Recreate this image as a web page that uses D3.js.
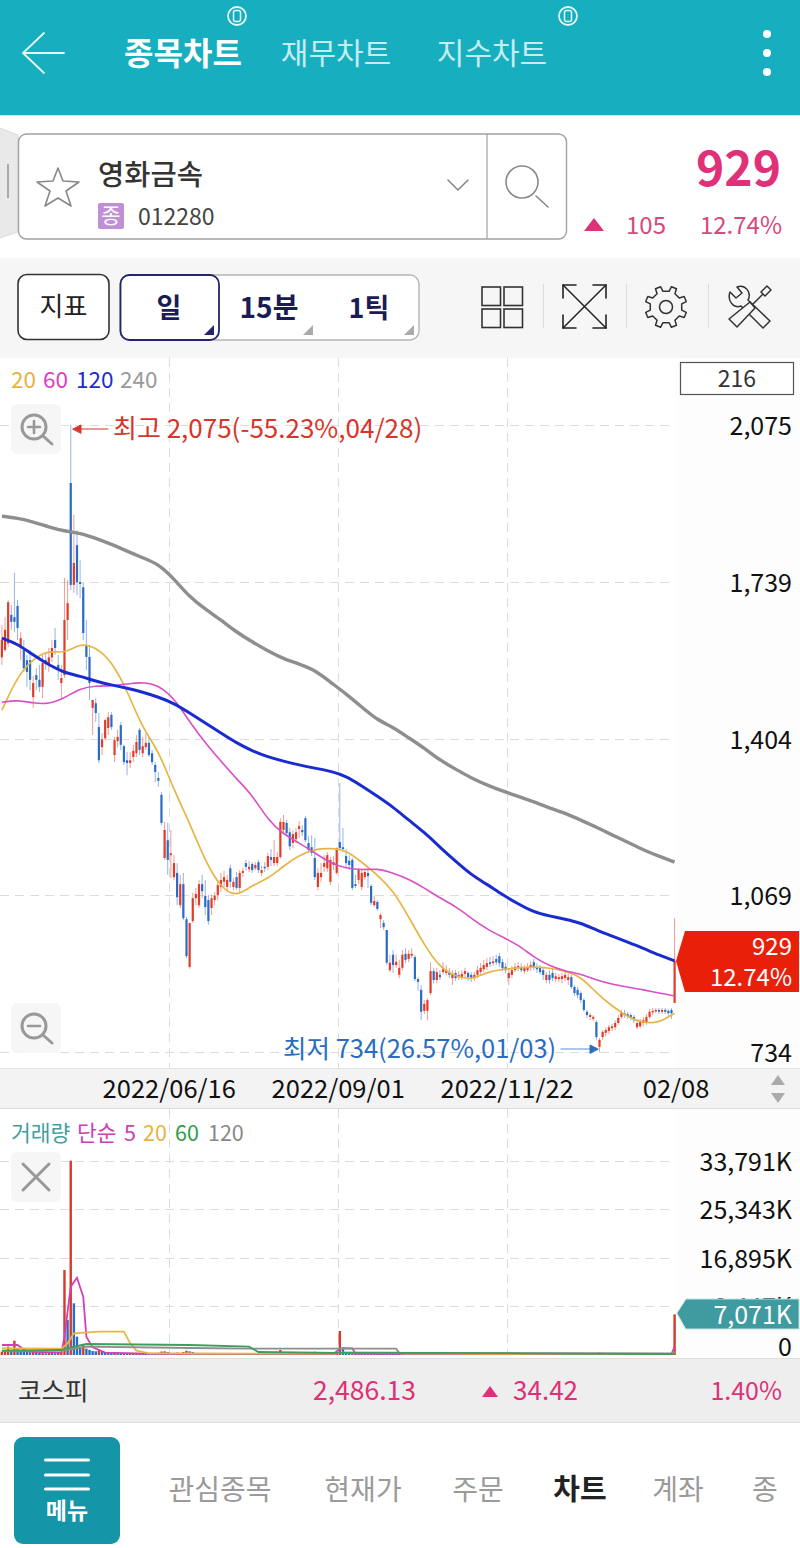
<!DOCTYPE html>
<html>
<head>
<meta charset="utf-8">
<style>
    html, body { margin: 0; padding: 0; background: #fff; }
    svg { display: block; }
    text { font-family: "Noto Sans CJK KR", "Noto Sans", sans-serif; }
    .tick line { shape-rendering: crispEdges; }
</style>
<script src="https://d3js.org/d3.v7.min.js"></script>
</head>
<body>
<svg id="chart" width="800" height="1548"></svg>

<script>
    // candles (won)
    var opens = [
        1578,1594,1608,1669,1664,1688,1598,1594,1572,1572,
        1493,1540,1530,1515,1572,1562,1578,1615,1562,1523,
        1540,1658,1951,1733,1818,1739,1728,1604,1579,1470,
        1480,1429,1386,1405,1427,1455,1369,1399,1433,1388,
        1358,1352,1365,1373,1423,1373,1386,1395,1373,1348,
        1320,1284,1149,1187,1155,1108,1117,1048,1093,1018,
        916,1014,1063,1048,1093,1068,1059,1042,1059,1070,
        1087,1098,1087,1127,1087,1108,1085,1117,1138,1125,
        1136,1127,1140,1117,1130,1130,1151,1138,1138,1151,
        1209,1224,1204,1181,1189,1211,1209,1234,1181,1172,
        1149,1087,1108,1130,1127,1098,1134,1117,1183,1172,
        1153,1143,1145,1093,1102,1087,1108,1117,1089,1048,
        1055,1018,1010,995,909,942,920,899,914,944,
        933,940,937,890,867,822,822,860,907,888,
        899,905,903,903,892,903,894,894,901,903,
        899,892,899,905,911,916,926,924,933,939,
        926,916,892,899,909,914,916,907,909,914,
        926,916,914,909,888,899,903,890,890,890,
        892,888,894,873,867,860,845,820,809,805,
        798,745,766,775,779,785,787,796,809,817,
        815,813,809,787,789,796,798,809,820,822,
        824,820,824,822,824,839];
    var highs = [
        1647,1664,1701,1690,1759,1701,1632,1615,1583,1594,
        1538,1555,1562,1583,1589,1598,1615,1641,1583,1562,
        1748,1743,2075,1883,1850,1786,1737,1658,1604,1487,
        1491,1459,1416,1448,1461,1461,1408,1423,1440,1391,
        1376,1376,1391,1412,1427,1408,1416,1408,1380,1354,
        1333,1290,1226,1224,1209,1155,1138,1113,1117,1023,
        1010,1074,1085,1102,1113,1102,1070,1070,1076,1102,
        1117,1121,1113,1134,1106,1119,1123,1128,1145,1143,
        1140,1140,1145,1132,1140,1160,1168,1187,1162,1234,
        1241,1230,1213,1209,1213,1228,1219,1239,1196,1198,
        1192,1128,1138,1155,1162,1151,1153,1172,1309,1213,
        1168,1155,1149,1113,1128,1123,1123,1123,1093,1068,
        1059,1031,1016,995,942,952,942,931,952,956,
        952,956,942,894,877,845,849,926,914,914,
        909,926,920,914,909,909,907,909,914,907,
        905,905,918,924,931,935,937,939,942,946,
        933,924,914,918,924,926,924,920,924,928,
        933,924,920,916,905,909,914,903,901,903,
        905,901,899,877,873,864,849,824,817,813,
        802,764,781,787,792,794,802,813,824,824,
        820,817,813,802,805,809,815,826,828,828,
        828,828,828,826,828,1020];
    var lows = [
        1562,1590,1600,1637,1632,1615,1572,1547,1515,1508,
        1470,1508,1504,1491,1551,1547,1568,1583,1530,1491,
        1534,1615,1722,1716,1711,1705,1615,1551,1487,1412,
        1440,1352,1369,1401,1412,1423,1354,1386,1380,1348,
        1326,1341,1354,1365,1369,1365,1380,1365,1348,1311,
        1301,1219,1145,1113,1106,1102,1048,1042,1016,935,
        912,1010,1048,1042,1063,1027,1006,1027,1048,1059,
        1076,1087,1076,1085,1080,1080,1076,1108,1123,1119,
        1117,1123,1117,1110,1119,1123,1132,1132,1132,1147,
        1202,1196,1166,1170,1181,1192,1196,1183,1160,1153,
        1102,1080,1098,1119,1119,1091,1123,1113,1166,1162,
        1130,1123,1080,1085,1093,1080,1102,1085,1048,1044,
        1036,999,995,920,905,903,914,892,909,924,
        926,935,886,865,802,815,802,856,881,881,
        888,899,897,892,877,886,888,888,894,886,
        884,886,892,899,905,909,916,918,920,916,
        907,903,877,892,905,907,905,901,905,907,
        909,903,899,888,881,879,886,884,884,881,
        886,877,869,854,849,839,820,807,802,800,
        760,734,760,768,772,779,781,792,805,807,
        805,802,796,783,785,789,792,805,813,817,
        815,815,815,811,805,839];
    var closes = [
        1615,1637,1696,1654,1654,1641,1619,1555,1547,1530,
        1523,1530,1515,1566,1564,1578,1598,1598,1551,1534,
        1658,1694,1733,1780,1739,1735,1630,1579,1523,1487,
        1459,1358,1403,1444,1450,1429,1401,1408,1391,1354,
        1352,1358,1378,1397,1380,1388,1395,1369,1354,1333,
        1314,1224,1209,1145,1159,1138,1065,1093,1020,939,
        1010,1063,1072,1093,1078,1044,1014,1063,1068,1091,
        1102,1108,1102,1098,1098,1085,1117,1121,1130,1130,
        1123,1134,1123,1123,1128,1153,1145,1151,1151,1226,
        1226,1202,1174,1200,1204,1217,1204,1187,1166,1160,
        1108,1117,1117,1138,1155,1145,1140,1170,1170,1168,
        1138,1134,1085,1089,1123,1117,1119,1110,1053,1057,
        1040,1027,1001,925,925,920,927,914,942,931,
        944,944,890,884,820,837,845,907,888,905,
        894,911,909,899,901,892,899,901,907,894,
        892,899,909,914,920,924,922,928,926,924,
        913,909,903,909,916,918,909,914,916,920,
        914,911,905,899,899,888,892,896,894,896,
        899,894,873,860,856,845,824,813,813,809,
        766,760,777,781,787,789,796,807,817,813,
        811,809,802,796,798,802,809,820,822,824,
        820,824,820,817,817,929];

    // moving averages, read every 5th bar
    var maIdx = [0,5,10,15,20,25,30,35,40,45,50,55,60,65,70,75,80,85,90,95,100,105,110,115,120,125,130,135,140,145,150,155,160,165,170,175,180,185,190,195,200,205,210,215];
    var ma240 = [1880,1876,1868,1857,1848,1844,1833,1820,1805,1791,1778,1746,1707,1681,1658,1632,1611,1592,1575,1564,1551,1525,1500,1472,1444,1429,1406,1384,1358,1339,1320,1305,1292,1281,1269,1256,1245,1230,1215,1198,1183,1166,1153,1140];
    var ma120 = [1619,1607,1583,1562,1545,1538,1527,1519,1512,1504,1493,1480,1459,1438,1416,1395,1378,1365,1356,1348,1341,1335,1324,1303,1281,1258,1230,1204,1172,1142,1113,1093,1070,1051,1033,1025,1018,1010,995,982,969,956,941,929];
    var ma60 = [1482,1487,1480,1478,1491,1512,1517,1517,1521,1525,1519,1491,1440,1395,1356,1318,1284,1230,1200,1181,1160,1138,1127,1123,1127,1117,1104,1085,1063,1046,1020,997,980,963,937,918,907,901,888,879,873,867,860,854];
    var ma20 = [1465,1538,1575,1594,1585,1609,1600,1570,1508,1425,1380,1294,1224,1142,1085,1065,1091,1104,1132,1155,1168,1170,1166,1140,1113,1080,1023,963,914,896,888,905,911,914,916,914,907,896,860,832,809,796,796,817];

    // volume, in K
    var volumes = [
        580,700,1450,870,2490,1160,870,750,580,460,
        640,520,350,460,300,400,350,300,400,520,
        14790,6090,33791,8990,3190,1450,1800,1100,900,700,
        650,800,560,500,430,350,400,320,270,300,
        260,300,250,320,350,280,260,220,300,260,
        420,600,640,520,360,300,420,340,520,750,
        640,520,360,300,340,280,300,260,230,270,
        300,250,240,260,230,250,280,220,210,200,
        230,210,200,190,220,260,240,300,280,870,
        420,300,320,260,240,220,230,340,280,240,
        570,380,280,260,300,330,240,420,4170,1100,
        480,360,420,280,240,300,220,210,340,230,
        260,300,210,420,360,320,240,280,300,220,
        200,190,320,280,460,340,380,520,320,240,
        200,210,190,180,210,190,170,180,190,170,
        160,170,180,210,230,220,190,180,200,220,
        240,210,260,220,190,180,170,180,190,170,
        210,190,180,200,170,160,180,170,160,170,
        180,170,260,240,220,260,300,220,180,170,
        360,420,300,240,220,200,230,260,240,190,
        170,180,190,220,200,190,210,230,190,170,
        160,170,150,160,170,7071];

    var vol5Idx = [0,5,8,15,19,20,22,24,26,27,29,33,50,106,108,109,112,113,150,214,215];
    var vol5 = [1740,1740,580,460,400,3190,11890,13456,10150,3190,1330,400,200,200,1100,1200,1150,260,150,170,1470];
    var vol20Idx = [0,19,21,23,31,39,41,43,47,62,107,108,127,128,214,215];
    var vol20 = [1160,1100,2030,3770,4060,4060,2030,750,290,260,230,430,430,230,180,530];
    var vol60Idx = [0,19,22,27,60,79,82,107,108,168,214,215];
    var vol60 = [750,870,1330,1910,1740,1440,520,350,420,300,170,290];
    var vol120Idx = [0,19,22,27,60,79,126,127,214,215];
    var vol120 = [700,760,1000,1440,1220,1100,1100,350,260,320];

    var priceTicks = [2075,1739,1404,1069,734];
    var volumeTicks = [33791,25343,16895,8447,0];
    var gridIdx = [53,107,161];
    var dateIdx = [53,107,161,215];
    var dateLabels = ["2022/06/16","2022/09/01","2022/11/22","02/08"];
    var maLegend = ["20","60","120","240"];
    var volLegend = ["거래량","단순","5","20","60","120"];
    var lastPrice = 929, lastPct = "12.74%", lastChange = "105";

    var teal = "#17afbf", pink = "#df3078", red = "#e23b28", blue = "#2a6bc6";
    var fontStack = '"Noto Sans CJK KR", "Noto Sans", sans-serif';

    var svg = d3.select("#chart");

    function rect(x, y, w, h, fill, stroke, rx, sw) {
        return svg.append("rect").attr("x", x).attr("y", y).attr("width", w).attr("height", h)
            .attr("fill", fill || "none").attr("stroke", stroke || "none")
            .attr("rx", rx || 0).attr("stroke-width", sw || 1.2);
    }
    function label(x, y, str, size, color, anchor, weight) {
        return svg.append("text").attr("x", x).attr("y", y).text(str)
            .attr("font-size", size).attr("fill", color)
            .attr("text-anchor", anchor || "start")
            .attr("font-weight", weight || 400);
    }
    function path(d, stroke, sw, fill) {
        return svg.append("path").attr("d", d).attr("stroke", stroke || "none")
            .attr("stroke-width", sw || 1.5).attr("fill", fill || "none")
            .attr("stroke-linecap", "round").attr("stroke-linejoin", "round");
    }

    // header
    rect(0, 0, 800, 115, teal);
    rect(0, 115, 800, 1, "#bfe8ec");
    path("M64 53H23M44 33L23 53L44 73", "#e6f7f8", 1.8);
    label(183, 65, "종목차트", 32, "#fff", "middle", 700);
    label(336, 64, "재무차트", 30, "#c5edf1", "middle");
    label(492, 64, "지수차트", 30, "#c5edf1", "middle");
    [237, 568].forEach(function (cx) {
        svg.append("circle").attr("cx", cx).attr("cy", 16).attr("r", 9)
            .attr("fill", "none").attr("stroke", "#e6f7f8").attr("stroke-width", 1.8);
        rect(cx - 3.5, 10.5, 7, 11, "none", "#e6f7f8", 2, 1.5);
    });
    [34, 53, 72].forEach(function (cy) {
        svg.append("circle").attr("cx", 767).attr("cy", cy).attr("r", 4).attr("fill", "#fff");
    });

    // search box
    path("M0 128L18 135V232L0 238Z", "#ddd", 1, "#e9e9e9");
    rect(7, 164, 2, 34, "#aaa");
    rect(18.5, 134, 548, 105, "#fff", "#a2a2a2", 8, 1.4);
    svg.append("line").attr("x1", 487).attr("x2", 487).attr("y1", 134).attr("y2", 239)
        .attr("stroke", "#a2a2a2").attr("stroke-width", 1.2);
    path("M58 168L63 181L79 182L66 191L71 206L58 198L45 206L50 191L37 182L53 181Z", "#888", 1.6);
    label(98, 185, "영화금속", 28.5, "#333", "start", 500);
    rect(98, 203, 26, 26, "#c08fd6", null, 2);
    label(111, 223, "종", 21, "#fff", "middle");
    label(138, 225, "012280", 23, "#444");
    path("M448 180L458 190L468 180", "#888", 1.6);
    svg.append("circle").attr("cx", 522).attr("cy", 182).attr("r", 16)
        .attr("fill", "none").attr("stroke", "#888").attr("stroke-width", 1.6);
    path("M536 196L548 207", "#888", 1.6);

    // current price
    label(781, 186, lastPrice, 48, pink, "end", 700);
    path("M584 231L594 218L604 231Z", null, 1, pink);
    label(666, 234, lastChange, 24, "#d8487f", "end");
    label(782, 234, lastPct, 24, "#d8487f", "end");

    // toolbar
    rect(0, 258, 800, 100, "#f6f6f6");
    rect(18, 274.5, 91, 65, "#fff", "#333", 9, 1.6);
    label(63.5, 316, "지표", 26, "#222", "middle");
    rect(120, 275, 299, 65, "#fff", "#b5b5b5", 9, 1.4);
    rect(120.5, 275, 98.5, 65, "#fff", "#25256b", 9, 1.8);
    label(169, 318, "일", 27, "#1b1b55", "middle", 700);
    label(269, 318, "15분", 28, "#1b1b55", "middle", 700);
    label(369, 318, "1틱", 27, "#1b1b55", "middle", 700);
    path("M204 335L214 335L214 325Z", null, 1, "#25256b");
    path("M303 335L313 335L313 325Z", null, 1, "#aaa");
    path("M404 335L414 335L414 325Z", null, 1, "#aaa");

    // toolbar icons
    [[482, 287], [504, 287], [482, 309], [504, 309]].forEach(function (p) {
        rect(p[0], p[1], 18.5, 18.5, "none", "#333", 0, 1.6);
    });
    [543, 626, 708].forEach(function (x) { rect(x, 284, 1, 44, "#ddd"); });
    path("M563 285L606 328M606 285L563 328", "#222", 1.5);
    path("M563 298V285H576M593 285H606V298M563 315V328H576M593 328H606V315", "#222", 1.6);
    var gear = [];
    d3.range(8).forEach(function (k) {
        var a = k * Math.PI / 4 - Math.PI / 8;
        [[16, -0.2], [21, -0.13], [21, 0.13], [16, 0.2]].forEach(function (t) {
            gear.push([666 + t[0] * Math.cos(a + t[1]), 307 + t[0] * Math.sin(a + t[1])]);
        });
    });
    path(d3.line().curve(d3.curveLinearClosed)(gear), "#333", 1.5);
    svg.append("circle").attr("cx", 666).attr("cy", 307).attr("r", 6.5)
        .attr("fill", "none").attr("stroke", "#333").attr("stroke-width", 1.5);
    path("M730 292L736 298L742 293L737 287C745 284 752 292 748 300L770 321L763 328L741 306C733 309 727 300 730 292Z", "#333", 1.5);
    path("M761 292L767 286L771 290L765 296ZM763 294L752 305", "#333", 1.5);
    path("M750 302L755 308L737 327L729 319Z", "#333", 1.5, "#f6f6f6");

    // pane backgrounds
    rect(675, 358, 125, 710, "#fdfdfd");
    rect(0, 1068, 800, 41, "#f3f3f3");
    rect(675, 1109, 125, 249, "#fdfdfd");

    // scales
    var x = d3.scaleLinear().domain([0, 215]).range([1.9, 674.6]);
    var yPrice = d3.scaleLinear().domain([734, 2075]).range([1052, 425]);
    var yVol = d3.scaleLinear().domain([0, 33791]).range([1355, 1160.7]);

    // grid
    function styleGrid(g) {
        g.select(".domain").remove();
        g.selectAll("text").remove();
        g.selectAll("line").attr("stroke", "#dcdcdc").attr("stroke-dasharray", "9 6").attr("stroke-width", 1);
    }
    svg.append("g").call(d3.axisRight(yPrice).tickValues(priceTicks).tickSize(675)).call(styleGrid);
    svg.append("g").call(d3.axisRight(yVol).tickValues(volumeTicks.slice(0, 4)).tickSize(675)).call(styleGrid);
    svg.append("g").attr("transform", "translate(1,358)")
        .call(d3.axisBottom(x).tickValues(gridIdx).tickSize(710)).call(styleGrid);
    svg.append("g").attr("transform", "translate(1,1109)")
        .call(d3.axisBottom(x).tickValues(gridIdx).tickSize(246)).call(styleGrid);

    // candles
    var candles = d3.range(opens.length);
    var candle = svg.append("g").attr("class", "candles");
    candle.selectAll("line").data(candles).enter().append("line")
        .attr("x1", function (i) { return x(i); })
        .attr("x2", function (i) { return x(i); })
        .attr("y1", function (i) { return yPrice(highs[i]); })
        .attr("y2", function (i) { return yPrice(lows[i]); })
        .attr("stroke", function (i) { return closes[i] >= opens[i] ? red : blue; })
        .attr("stroke-opacity", 0.5)
        .attr("stroke-width", 1);
    candle.selectAll("rect").data(candles).enter().append("rect")
        .attr("x", function (i) { return x(i) - 1.1; })
        .attr("width", 2.2)
        .attr("y", function (i) { return yPrice(Math.max(opens[i], closes[i])); })
        .attr("height", function (i) { return Math.max(1.5, Math.abs(yPrice(opens[i]) - yPrice(closes[i]))); })
        .attr("fill", function (i) { return closes[i] >= opens[i] ? red : blue; });

    // moving averages
    var maLine = d3.line().curve(d3.curveBasis)
        .x(function (d, k) { return x(maIdx[k]); })
        .y(function (d) { return yPrice(d); });
    function drawMa(values, color, width) {
        svg.append("path").datum(values).attr("d", maLine)
            .attr("fill", "none").attr("stroke", color).attr("stroke-width", width);
    }
    drawMa(ma240, "#8e8e8e", 3.4);
    drawMa(ma20, "#e8b545", 1.7);
    drawMa(ma60, "#d84fc6", 1.6);
    drawMa(ma120, "#1a2bd0", 3);

    // price pane legend, box and labels
    var maColors = ["#e8b33c", "#d83fc0", "#1c2bd4", "#999"], maX = [11, 43, 76, 120];
    maLegend.forEach(function (t, k) { label(maX[k], 388, t, 22.5, maColors[k]); });
    rect(680.5, 362.5, 113, 32, "#fff", "#555", 0, 1.2);
    label(737, 387, "216", 23, "#333", "middle");

    rect(11, 404, 50, 50, "#f6f6f6", null, 6);
    svg.append("circle").attr("cx", 34).attr("cy", 427).attr("r", 12).attr("fill", "none").attr("stroke", "#999").attr("stroke-width", 3);
    path("M43 436L52 444", "#999", 3);
    path("M28 427H40M34 421V433", "#999", 2.6);
    rect(11, 1003, 50, 50, "#f6f6f6", null, 6);
    svg.append("circle").attr("cx", 34).attr("cy", 1026).attr("r", 12).attr("fill", "none").attr("stroke", "#999").attr("stroke-width", 3);
    path("M43 1035L52 1043", "#999", 3);
    path("M28 1026H40", "#999", 2.6);

    label(113, 438, "최고 2,075(-55.23%,04/28)", 26, "#d8352a");
    path("M108 429H78", "#d8352a", 1.2);
    path("M73 429L81 425V433Z", "#d8352a", 1, "#d8352a");
    label(283, 1058, "최저 734(26.57%,01/03)", 25.5, "#2a6cc0");
    path("M561 1049H592", "#5c8fd0", 1.2);
    path("M598 1049L590 1045V1053Z", "#2a6cc0", 1, "#2a6cc0");

    function styleAxis(g) {
        g.select(".domain").remove();
        g.selectAll("line").remove();
        g.selectAll("text").attr("x", 0).attr("y", 1.5).attr("text-anchor", "end")
            .attr("font-size", 25).attr("fill", "#111")
            .style("font-family", fontStack);
    }
    svg.append("g").attr("transform", "translate(792,0)")
        .call(d3.axisRight(yPrice).tickValues(priceTicks).tickFormat(d3.format(",")))
        .call(styleAxis);

    // last price badge
    path("M676 961L685 931H799V992H685Z", null, 1, "#e8200a");
    label(792, 955, lastPrice, 24, "#fff", "end");
    label(792, 986, lastPct, 24, "#fff", "end");

    // date axis
    svg.append("g").attr("transform", "translate(1,1098)")
        .call(d3.axisBottom(x).tickValues(dateIdx).tickSize(0)
            .tickFormat(function (d) { return dateLabels[dateIdx.indexOf(d)]; }))
        .call(function (g) {
            g.select(".domain").remove();
            g.selectAll("line").remove();
            g.selectAll("text").attr("y", 0).attr("dy", 0).attr("font-size", 25.5).attr("fill", "#111")
                .style("font-family", fontStack);
        });
    rect(0, 1068, 800, 1, "#e4e4e4");
    rect(0, 1108, 800, 1, "#ddd");
    path("M771 1085L778 1075L785 1085Z", null, 1, "#aaa");
    path("M771 1093L778 1103L785 1093Z", null, 1, "#aaa");

    // volume bars
    var bars = d3.range(volumes.length);
    svg.append("g").attr("class", "volumes").selectAll("rect").data(bars).enter().append("rect")
        .attr("x", function (i) { return x(i) - 1.2; })
        .attr("width", 2.4)
        .attr("y", function (i) { return yVol(volumes[i]); })
        .attr("height", function (i) { return yVol(0) - yVol(volumes[i]); })
        .attr("fill", function (i) { return i === 0 || volumes[i] >= volumes[i - 1] ? "#d63a2a" : blue; });

    // volume averages
    function drawVolMa(idx, values, color, width) {
        var line = d3.line()
            .x(function (d, k) { return x(idx[k]); })
            .y(function (d) { return yVol(d); });
        svg.append("path").datum(values).attr("d", line)
            .attr("fill", "none").attr("stroke", color).attr("stroke-width", width);
    }
    drawVolMa(vol5Idx, vol5, "#d040b8", 1.8);
    drawVolMa(vol20Idx, vol20, "#e8b545", 1.8);
    drawVolMa(vol120Idx, vol120, "#8e8e8e", 1.8);
    drawVolMa(vol60Idx, vol60, "#3f9e5c", 1.8);

    // volume legend
    var volColors = ["#3f9ea0", "#cc40b0", "#cc40b0", "#e8b33c", "#2d9e4a", "#888"];
    var volX = [11, 77, 124, 143, 175, 208];
    volLegend.forEach(function (t, k) { label(volX[k], 1141, t, 21.5, volColors[k]); });

    rect(11, 1152, 50, 50, "#f6f6f6", null, 6);
    path("M23 1164L49 1190M49 1164L23 1190", "#999", 3);

    // volume axis labels
    svg.append("g").attr("transform", "translate(792,0)")
        .call(d3.axisRight(yVol).tickValues(volumeTicks)
            .tickFormat(function (d) { return d === 0 ? "0" : d3.format(",")(d) + "K"; }))
        .call(styleAxis)
        .call(function (g) {
            g.selectAll(".tick").filter(function (d) { return d === 0; }).select("text").attr("y", -8);
        });

    // volume badge
    path("M677 1313L686 1299H799V1329H686Z", "#bfe5e5", 1, "#3f9b9f");
    label(792, 1324, "7,071K", 25, "#fff", "end");

    // index row
    rect(0, 1358, 800, 64, "#eeeeee");
    rect(0, 1358, 800, 1, "#dedede");
    rect(0, 1422, 800, 1, "#dedede");
    label(18, 1400, "코스피", 25.5, "#333");
    label(416, 1400, "2,486.13", 26.5, pink, "end");
    path("M482 1397L490 1386L498 1397Z", null, 1, pink);
    label(578, 1400, "34.42", 26, pink, "end");
    label(782, 1400, "1.40%", 25, pink, "end");

    // bottom menu
    rect(14, 1437, 106, 107, "#1595a8", null, 9);
    [1460, 1475, 1489].forEach(function (y) { rect(44, y - 1.5, 46, 3, "#fff", null, 1.5); });
    label(67, 1519, "메뉴", 23, "#fff", "middle", 700);
    var menuItems = ["관심종목", "현재가", "주문", "차트", "계좌", "종"];
    var menuX = [220, 363, 478, 580, 678, 765];
    menuItems.forEach(function (t, k) {
        var on = t === "차트";
        label(menuX[k], 1500, t, on ? 29 : 28, on ? "#222" : "#9a9a9a", "middle", on ? 700 : 400);
    });
</script>
</body>
</html>
